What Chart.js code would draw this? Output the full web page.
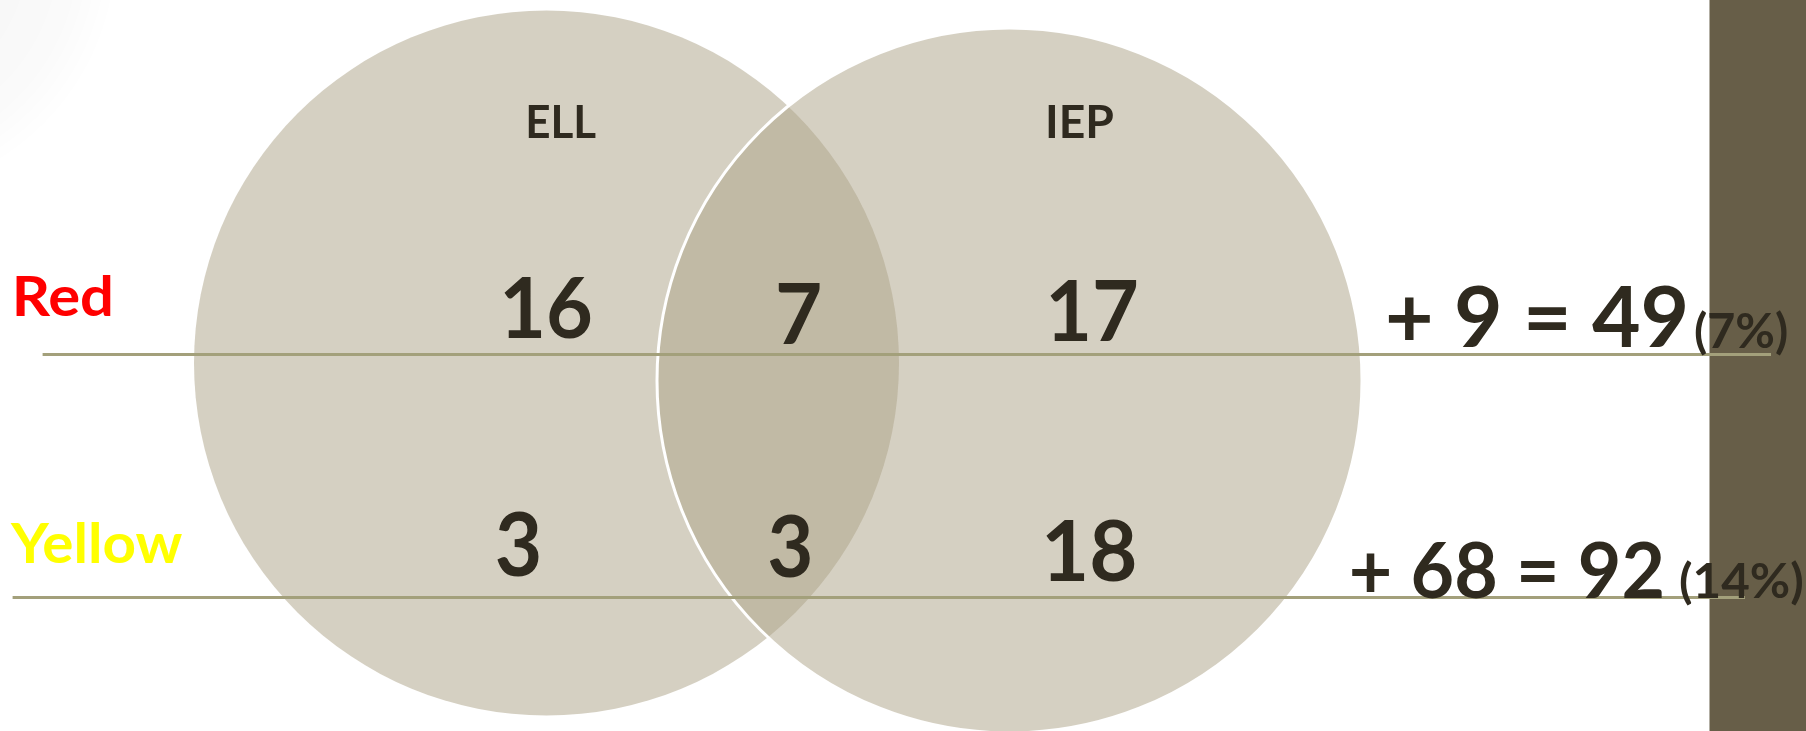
<!DOCTYPE html>
<html>
<head>
<meta charset="utf-8">
<script src="https://cdn.jsdelivr.net/npm/chart.js@4.4.1/dist/chart.umd.min.js"></script>
<style>
html,body{margin:0;padding:0;background:#ffffff;overflow:hidden}
#wrap{width:1806px;height:731px;position:relative}
canvas{display:block}
</style>
</head>
<body>
<div id="wrap"><canvas id="c" width="1806" height="731"></canvas></div>
<script>
// ---------- DATA ----------
const groups = ['ELL', 'IEP'];
const rows = ['Red', 'Yellow'];
const ellOnly = [16, 3];
const both = [7, 3];
const iepOnly = [17, 18];
const neither = [9, 68];
const totals = [49, 92];
const percents = ['7%', '14%'];

// ---------- LAYOUT (positions / styles, in scale units) ----------
const LAYOUT = {
  width: 1806, height: 731,
  circles: [ {cx: 546.5, cy: 363, r: 352.5}, {cx: 1009.5, cy: 380.5, r: 352.5} ],
  rowLines: [ {y: 354.5, x0: 42.6, x1: 1771}, {y: 597.5, x0: 12.6, x1: 1745} ],
  band: {x0: 1709.5, x1: 1806},
  // ink boxes [left, right, top, bottom]
  groupBoxes: [ [528, 596, 105, 138.5], [1048, 1113.5, 105, 138.5] ],
  rowBoxes: [ [16, 111, 275, 317], [10, 182.5, 522, 564] ],
  ellBoxes: [ [504, 591, 276.5, 339], [496.5, 538.5, 511, 576] ],
  bothBoxes: [ [778, 820, 283, 344], [769, 810.5, 514, 578] ],
  iepBoxes: [ [1050, 1136.5, 280, 341], [1046, 1135, 519, 581] ],
  sumBoxes: [ [1388, 1685, 285, 347], [1351.7, 1661.7, 540.7, 597.3] ],
  pctBoxes: [ [1695, 1787, 310, 356], [1680, 1802.7, 560, 605] ]
};
const STYLE = {
  font: 'Lato, "Open Sans", "DejaVu Sans", sans-serif',
  text: '#2F2A1F',
  rowColors: ['#FF0000', '#FFFF00'],
  circleFill: 'rgba(174,165,138,0.52)',
  circleBorders: ['rgba(255,255,255,0)', '#FFFFFF'],
  circleBorderWidths: [0, 3],
  line: '#A3A07B',
  lineWidth: 3,
  band: '#675E48'
};

function drawFitted(ctx, text, box, color, xs, ys) {
  const left = xs.getPixelForValue(box[0]), right = xs.getPixelForValue(box[1]);
  const top = ys.getPixelForValue(box[2]), bottom = ys.getPixelForValue(box[3]);
  ctx.save();
  ctx.textAlign = 'left';
  ctx.textBaseline = 'alphabetic';
  ctx.font = 'bold 100px ' + STYLE.font;
  let m = ctx.measureText(text);
  const h0 = m.actualBoundingBoxAscent + m.actualBoundingBoxDescent;
  const size = 100 * (bottom - top) / h0;
  ctx.font = 'bold ' + size.toFixed(2) + 'px ' + STYLE.font;
  m = ctx.measureText(text);
  const w = m.actualBoundingBoxLeft + m.actualBoundingBoxRight;
  const sx = (right - left) / w;
  ctx.translate(left, top);
  ctx.scale(sx, 1);
  ctx.fillStyle = color;
  ctx.fillText(text, m.actualBoundingBoxLeft, m.actualBoundingBoxAscent);
  ctx.restore();
}

const backdrop = {
  id: 'backdrop',
  beforeDatasetsDraw(chart) {
    const {ctx, scales: {x, y}} = chart;
    ctx.save();
    const g = ctx.createRadialGradient(-130, -50, 20, -130, -50, 250);
    g.addColorStop(0, 'rgba(0,0,0,0.045)');
    g.addColorStop(0.8, 'rgba(0,0,0,0.02)');
    g.addColorStop(1, 'rgba(0,0,0,0)');
    ctx.fillStyle = g;
    ctx.fillRect(0, 0, 300, 300);
    const bx0 = x.getPixelForValue(LAYOUT.band.x0), bx1 = x.getPixelForValue(LAYOUT.band.x1);
    ctx.fillStyle = STYLE.band;
    ctx.fillRect(bx0, y.getPixelForValue(0), bx1 - bx0, y.getPixelForValue(LAYOUT.height) - y.getPixelForValue(0));
    ctx.restore();
  }
};

const labels = {
  id: 'labels',
  afterDatasetsDraw(chart) {
    const {ctx, scales: {x, y}} = chart;
    groups.forEach((g, i) => drawFitted(ctx, g, LAYOUT.groupBoxes[i], STYLE.text, x, y));
    rows.forEach((r, i) => {
      drawFitted(ctx, r, LAYOUT.rowBoxes[i], STYLE.rowColors[i], x, y);
      drawFitted(ctx, String(ellOnly[i]), LAYOUT.ellBoxes[i], STYLE.text, x, y);
      drawFitted(ctx, String(both[i]), LAYOUT.bothBoxes[i], STYLE.text, x, y);
      drawFitted(ctx, String(iepOnly[i]), LAYOUT.iepBoxes[i], STYLE.text, x, y);
      drawFitted(ctx, '+ ' + neither[i] + ' = ' + totals[i], LAYOUT.sumBoxes[i], STYLE.text, x, y);
      drawFitted(ctx, '(' + percents[i] + ')', LAYOUT.pctBoxes[i], STYLE.text, x, y);
    });
  }
};

function build() {
  const lineSets = rows.map((r, i) => ({
    type: 'line',
    label: r + ' row',
    data: [ {x: LAYOUT.rowLines[i].x0, y: LAYOUT.rowLines[i].y}, {x: LAYOUT.rowLines[i].x1, y: LAYOUT.rowLines[i].y} ],
    borderColor: STYLE.line,
    borderWidth: STYLE.lineWidth,
    borderCapStyle: 'butt',
    pointRadius: 0,
    fill: false,
    order: 0
  }));
  const circleSet = {
    type: 'scatter',
    label: 'groups',
    data: groups.map((g, i) => ({x: LAYOUT.circles[i].cx, y: LAYOUT.circles[i].cy, name: g})),
    pointRadius: (c) => {
      const xs = c.chart.scales.x;
      const r = LAYOUT.circles[c.dataIndex].r;
      return Math.abs(xs.getPixelForValue(r) - xs.getPixelForValue(0));
    },
    pointBackgroundColor: STYLE.circleFill,
    pointBorderColor: STYLE.circleBorders,
    pointBorderWidth: STYLE.circleBorderWidths,
    order: 1
  };
  new Chart(document.getElementById('c'), {
    type: 'scatter',
    data: { datasets: [...lineSets, circleSet] },
    options: {
      responsive: false,
      animation: false,
      events: [],
      devicePixelRatio: 1,
      layout: { padding: 0 },
      clip: false,
      plugins: { legend: {display: false}, tooltip: {enabled: false} },
      scales: {
        x: { type: 'linear', min: 0, max: LAYOUT.width, display: false },
        y: { type: 'linear', min: 0, max: LAYOUT.height, reverse: true, display: false }
      }
    },
    plugins: [backdrop, labels]
  });
}

if (document.fonts && document.fonts.load) {
  Promise.all([document.fonts.load('bold 80px Lato')]).then(build, build);
} else { build(); }
</script>
</body>
</html>
